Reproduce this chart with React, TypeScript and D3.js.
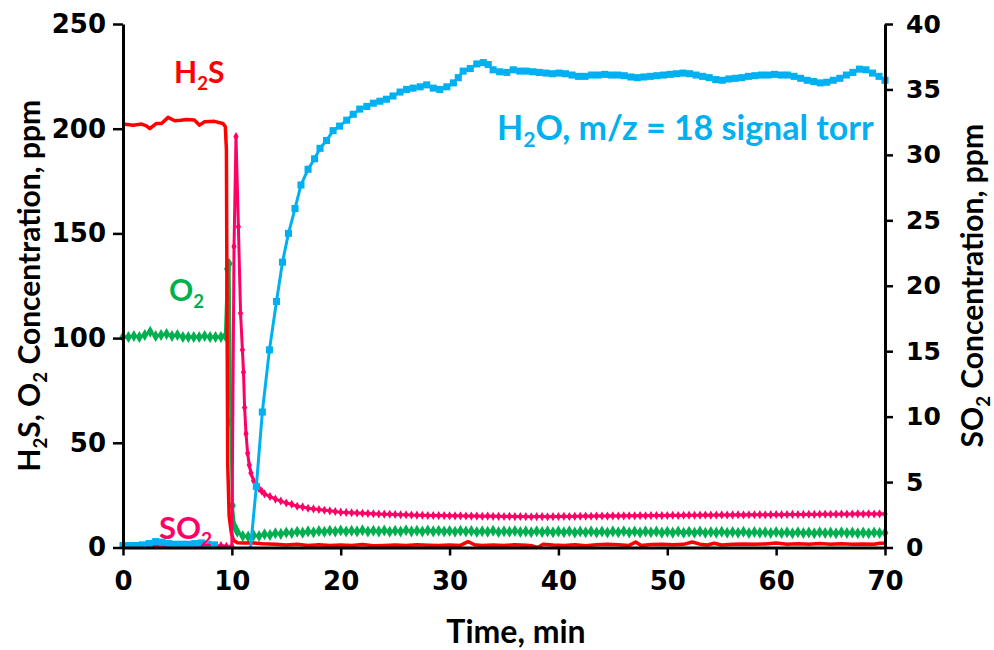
import React, { useEffect, useRef } from 'react'
import * as d3 from 'd3'

type Pt = [number, number]

// H2S concentration, ppm (left axis)
const h2s: Pt[] = [
  [0, 202.2], [0.94, 201.6], [1.7, 202.2], [2.1, 201.5], [2.47, 200.1], [3.08, 202.5], [3.54, 202.5],
  [4.14, 205.4], [4.75, 203.8], [5.3, 204.0], [5.82, 204.4], [6.57, 204.1], [7.03, 201.7], [7.5, 203.3],
  [8.4, 203.5], [9.17, 202.5], [9.4, 201], [9.5, 190], [9.55, 120], [9.62, 40], [9.75, 15], [9.95, 7],
  [10.15, 3.5], [10.5, 2.3], [11, 2.2], [12, 2.2], [12.8, 1.8], [14, 1.5], [15, 1.2], [16, 1.5], [17, 1.0],
  [18, 1.3], [19, 1.0], [20, 1.2], [21, 1.0], [22, 1.4], [23, 0.8], [24, 1.0], [25, 1.2], [26, 1.0],
  [27, 1.3], [28, 1.1], [29, 0.9], [30, 1.2], [31, 1.0], [31.7, 2.8], [32.3, 1.3], [33, 1.0], [34, 1.2],
  [35, 1.0], [36, 1.3], [37, 1.1], [37.6, 0.8], [38.1, 0.0], [38.6, 1.5], [39.5, 1.2], [40.5, 1.0],
  [41.5, 1.3], [42.5, 0.8], [43.5, 1.3], [44.5, 1.5], [45.5, 1.3], [46.5, 1.0], [47.1, 2.6], [47.6, 1.0],
  [48.5, 1.4], [49.5, 1.5], [50.5, 1.3], [51.5, 1.5], [52.3, 2.6], [53, 1.6], [53.7, 1.2], [54.3, 2.0],
  [55, 1.2], [56, 1.5], [57, 1.7], [58, 1.6], [59, 1.7], [60, 2.1], [61, 1.6], [62, 1.8], [63, 1.5],
  [64, 1.9], [65, 1.6], [66, 1.8], [67, 1.5], [68, 1.7], [69, 1.6], [69.5, 2.0], [70, 2.0],
]

// O2 concentration, ppm (left axis)
const o2Head = [100.5, 100.5, 101, 100.5, 101.5, 103, 101, 101.5, 102, 101, 101.5, 100.5, 100.5, 100.5,
  100.5, 101, 100.5, 100.5, 100.5] // t = 0 .. 9, every 0.5 min
const o2Drop: Pt[] = [[9.4, 101], [9.6, 133], [9.75, 135.5], [9.9, 60], [10.05, 20], [10.25, 10],
  [10.5, 7.5], [11, 5.5], [11.5, 5.2]]
const o2Tail = [ // t = 12 .. 70, every 0.5 min
  5.8, 5.5, 6.3, 6.0, 6.8, 6.5, 7.2, 6.9, 7.5, 7.1, 7.7, 7.3, 7.9, 7.5, 8.0, 7.6,
  8.1, 7.6, 8.0, 7.7, 8.2, 7.6, 8.0, 7.7, 8.1, 7.5, 8.0, 7.6, 8.2, 7.7, 8.0, 7.6, 8.1, 7.7, 8.0, 7.6,
  7.9, 7.5, 8.0, 7.6, 7.9, 7.4, 7.8, 7.5, 8.0, 7.4, 7.8, 7.5, 7.9, 7.4, 7.7, 7.3, 7.8, 7.4, 7.7, 7.3,
  7.7, 7.3, 7.8, 7.2, 7.6, 7.3, 7.7, 7.2, 7.6, 7.2, 7.7, 7.3, 7.8, 7.2, 7.6, 7.2, 7.7, 7.3, 7.6, 7.1,
  7.5, 7.1, 7.6, 7.0, 7.5, 7.1, 7.6, 7.0, 7.4, 7.1, 7.5, 7.0, 7.4, 7.0, 7.5, 6.9, 7.4, 7.0, 7.3, 6.9,
  7.4, 6.9, 7.3, 6.8, 7.3, 6.9, 7.2, 6.8, 7.3, 6.9, 7.2, 6.8, 7.3, 6.9, 7.2, 6.8, 7.1, 6.8, 7.2, 6.9,
  7.0,
]

// SO2 concentration, ppm (right axis)
const so2Head = [0.1, 0.08, 0.1, 0.12, 0.1, 0.1, 0.08, 0.1, 0.1, 0.12, 0.1, 0.1, 0.1, 0.08, 0.1, 0.1,
  0.12, 0.1, 0.15, 0.1] // t = 0 .. 9.5, every 0.5 min
const so2Peak: Pt[] = [[10.0, 0.1], [10.2, 23], [10.38, 31.4], [10.6, 24.5], [10.8, 17.9], [10.97, 15.1],
  [11.07, 13.4], [11.17, 10.7], [11.3, 8.7], [11.45, 7.2], [11.6, 6.3], [11.75, 5.7], [12.0, 5.1],
  [12.25, 4.7], [12.5, 4.5], [12.75, 4.3], [13, 4.1], [13.5, 3.9], [14, 3.7], [14.5, 3.55], [15, 3.4],
  [15.5, 3.3], [16, 3.15], [16.5, 3.1], [17, 3.0], [17.5, 2.95], [18, 2.9], [18.5, 2.85], [19, 2.8],
  [19.5, 2.75]]
const so2Tail = [ // t = 20 .. 70, every 0.5 min
  2.7, 2.68, 2.66, 2.64, 2.62, 2.6, 2.58, 2.56, 2.55, 2.54, 2.52, 2.5, 2.5, 2.48, 2.47, 2.46, 2.45, 2.45, 2.44, 2.44,
  2.43, 2.42, 2.42, 2.41, 2.4, 2.4, 2.39, 2.4, 2.38, 2.38, 2.37, 2.38, 2.36, 2.37, 2.36, 2.35, 2.36, 2.36, 2.35, 2.36,
  2.37, 2.38, 2.37, 2.38, 2.39, 2.4, 2.39, 2.4, 2.41, 2.4, 2.42, 2.41, 2.42, 2.43, 2.42, 2.44, 2.43, 2.44, 2.45, 2.44,
  2.45, 2.46, 2.45, 2.46, 2.47, 2.46, 2.47, 2.48, 2.47, 2.48, 2.49, 2.48, 2.49, 2.5, 2.49, 2.5, 2.5, 2.51, 2.5, 2.51,
  2.52, 2.51, 2.52, 2.53, 2.52, 2.53, 2.54, 2.53, 2.54, 2.55, 2.54, 2.55, 2.56, 2.55, 2.56, 2.57, 2.56, 2.57, 2.56, 2.57,
  2.56,
]

// H2O m/z = 18 signal, drawn against the right axis
const h2oHead = [0.15, 0.15, 0.15, 0.2, 0.3, 0.45, 0.4, 0.3, 0.25, 0.25, 0.25, 0.3, 0.35, 0.25, 0.2] // t = 0 .. 8.4, every 0.6 min
const h2oRise: Pt[] = [[11.65, -0.6], [12.25, 4.67], [12.8, 10.35], [13.45, 15.1], [14.1, 18.8], [14.65, 21.8],
  [15.2, 24.0], [15.8, 25.9], [16.35, 27.7], [17.0, 28.9], [17.6, 29.7], [18.1, 30.5], [18.7, 31.1],
  [19.3, 31.85], [19.9, 32.2], [20.55, 32.65], [21.15, 33.1], [21.75, 33.5], [22.4, 33.7], [23.0, 33.95],
  [23.6, 34.1], [24.2, 34.25], [24.8, 34.5], [25.45, 34.8], [26.05, 35.0], [26.65, 35.1], [27.3, 35.2],
  [27.9, 35.35], [28.5, 35.1], [29.1, 35.0], [29.75, 35.2], [30.35, 35.5], [30.8, 35.9], [31.25, 36.4],
  [31.9, 36.6], [32.5, 36.95], [33.1, 37.05], [33.55, 36.9], [34.0, 36.5], [34.6, 36.35], [35.25, 36.3],
  [35.85, 36.5]]
const h2oTail = [ // t = 36.45 .. 69.45, every 0.6 min
  36.4, 36.4, 36.35, 36.3, 36.25, 36.2, 36.25, 36.2, 36.1, 36.0, 36.0, 36.1, 36.1, 36.15, 36.1, 36.1,
  36.05, 35.95, 35.9, 35.95, 36.0, 36.05, 36.1, 36.15, 36.2, 36.25, 36.2, 36.1, 36.0, 35.9, 35.75, 35.7,
  35.8, 35.85, 35.9, 36.0, 36.05, 36.1, 36.1, 36.15, 36.1, 36.1, 36.0, 35.85, 35.7, 35.6, 35.5, 35.55,
  35.7, 35.85, 36.1, 36.3, 36.55, 36.5, 36.25, 36.0,
]
const h2oEnd: Pt[] = [[70, 35.7]]

const leftTicks = [0, 50, 100, 150, 200, 250]
const rightTicks = [0, 5, 10, 15, 20, 25, 30, 35, 40]
const timeTicks = [0, 10, 20, 30, 40, 50, 60, 70]

const sampled = (start: number, step: number, vals: number[]): Pt[] =>
  vals.map((v, i) => [start + i * step, v] as Pt)

const RED = '#ff0000'
const GREEN = '#00b050'
const PINK = '#ff0066'
const BLUE = '#00b0f0'

export default function App() {
  const ref = useRef<SVGSVGElement>(null)

  useEffect(() => {
    const W = 994, H = 650
    const m = { left: 123, right: 885, top: 24, bottom: 547.5 }

    const x = d3.scaleLinear().domain([0, 70]).range([m.left, m.right])
    const yL = d3.scaleLinear().domain([0, 250]).range([m.bottom, m.top])
    const yR = d3.scaleLinear().domain([0, 40]).range([m.bottom, m.top])

    const svg = d3.select(ref.current).attr('width', W).attr('height', H)
    svg.selectAll('*').remove()
    svg.append('rect').attr('width', W).attr('height', H).attr('fill', '#fff')

    svg.append('clipPath').attr('id', 'plot-clip')
      .append('rect')
      .attr('x', m.left - 6).attr('y', 0)
      .attr('width', m.right - m.left + 12).attr('height', m.bottom + 1.5)

    const plot = svg.append('g').attr('clip-path', 'url(#plot-clip)')

    const drawSeries = (pts: Pt[], y: d3.ScaleLinear<number, number>, color: string, width: number,
      symbol: d3.SymbolType | null, size: number) => {
      const line = d3.line<Pt>().x(d => x(d[0])).y(d => y(d[1]))
      plot.append('path').datum(pts)
        .attr('d', line)
        .attr('fill', 'none')
        .attr('stroke', color)
        .attr('stroke-width', width)
        .attr('stroke-linejoin', 'round')
      if (symbol) {
        const sym = d3.symbol().type(symbol).size(size)
        plot.append('g').selectAll('path')
          .data(pts)
          .enter()
          .append('path')
          .attr('d', sym)
          .attr('transform', d => `translate(${x(d[0])},${y(d[1])})`)
          .attr('fill', color)
      }
    }

    drawSeries([...sampled(0, 0.5, o2Head), ...o2Drop, ...sampled(12, 0.5, o2Tail)], yL, GREEN, 3, d3.symbolDiamond, 42)
    drawSeries(h2s, yL, RED, 3.5, null, 0)
    drawSeries([...sampled(0, 0.5, so2Head), ...so2Peak, ...sampled(20, 0.5, so2Tail)], yR, PINK, 3, d3.symbolDiamond, 24)
    drawSeries(sampled(0, 0.6, h2oHead), yR, BLUE, 3, d3.symbolSquare, 50)
    drawSeries([...h2oRise, ...sampled(36.45, 0.6, h2oTail), ...h2oEnd], yR, BLUE, 3, d3.symbolSquare, 50)

    // axes
    const tickFont = (g: d3.Selection<SVGGElement, unknown, null, undefined>, size: number) => {
      g.selectAll('text')
        .attr('font-family', '"DejaVu Sans", Verdana, sans-serif')
        .attr('font-weight', 'bold')
        .attr('font-size', size)
        .attr('fill', '#000')
      g.selectAll('line').attr('stroke', '#000').attr('stroke-width', 2.5)
      g.select('.domain').attr('stroke', '#000').attr('stroke-width', 3)
    }

    const gX = svg.append('g').attr('transform', `translate(0,${m.bottom})`)
      .call(d3.axisBottom(x).tickValues(timeTicks).tickSizeInner(8).tickSizeOuter(0).tickPadding(16).tickFormat(d3.format('d')))
    gX.attr('font-size', null).attr('font-family', null)
    tickFont(gX, 26)

    const gL = svg.append('g').attr('transform', `translate(${m.left},0)`)
      .call(d3.axisLeft(yL).tickValues(leftTicks).tickSizeInner(10).tickSizeOuter(0).tickPadding(7).tickFormat(d3.format('d')))
    gL.attr('font-size', null).attr('font-family', null)
    tickFont(gL, 26)

    const gR = svg.append('g').attr('transform', `translate(${m.right},0)`)
      .call(d3.axisRight(yR).tickValues(rightTicks).tickSizeInner(8).tickSizeOuter(0).tickPadding(13).tickFormat(d3.format('d')))
    gR.attr('font-size', null).attr('font-family', null)
    tickFont(gR, 25)

    // text with subscripts: parts alternate normal / subscript
    const richText = (parent: d3.Selection<any, unknown, null, undefined>, parts: string[], size: number) => {
      parts.forEach((p, i) => {
        const sub = i % 2 === 1
        parent.append('tspan')
          .attr('font-size', sub ? size * 0.62 : size)
          .attr('dy', sub ? size * 0.22 : (i > 0 ? -size * 0.22 : 0))
          .text(p)
      })
    }

    const titleFont = 'Lato, "Open Sans", sans-serif'

    const label = (tx: number, ty: number, color: string, parts: string[], size: number) => {
      const t = svg.append('text')
        .attr('x', tx).attr('y', ty)
        .attr('fill', color)
        .attr('font-family', titleFont)
        .attr('font-weight', 'bold')
        .attr('font-size', size)
      richText(t, parts, size)
    }

    label(174, 83, RED, ['H', '2', 'S'], 30)
    label(169, 301, GREEN, ['O', '2', ''], 30)
    label(159, 539, PINK, ['SO', '2', ''], 31)
    label(497, 140, BLUE, ['H', '2', 'O, m/z = 18 signal torr'], 34)

    // axis titles
    svg.append('text')
      .attr('x', 516).attr('y', 643)
      .attr('text-anchor', 'middle')
      .attr('font-family', titleFont).attr('font-weight', 'bold').attr('font-size', 32)
      .text('Time, min')

    const lt = svg.append('text')
      .attr('transform', `translate(40,${(m.top + m.bottom) / 2}) rotate(-90)`)
      .attr('text-anchor', 'middle')
      .attr('font-family', titleFont).attr('font-weight', 'bold').attr('font-size', 30)
    richText(lt, ['H', '2', 'S, O', '2', ' Concentration, ppm'], 30)

    const rt = svg.append('text')
      .attr('transform', `translate(983,${(m.top + m.bottom) / 2}) rotate(-90)`)
      .attr('text-anchor', 'middle')
      .attr('font-family', titleFont).attr('font-weight', 'bold').attr('font-size', 30)
    richText(rt, ['SO', '2', ' Concentration, ppm'], 30)
  }, [])

  return <svg ref={ref} style={{ position: 'absolute', left: 0, top: 0, display: 'block' }} />
}
